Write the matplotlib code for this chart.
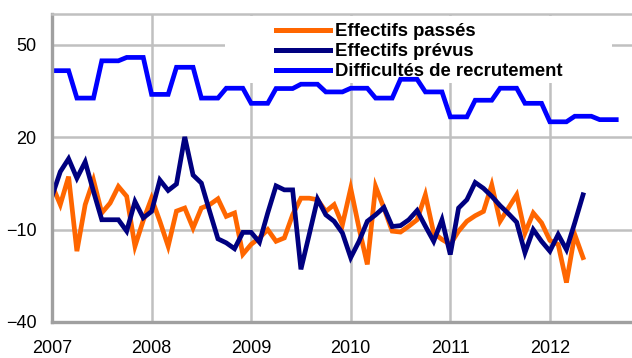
import matplotlib
matplotlib.use("Agg")
import matplotlib.pyplot as plt
from matplotlib.patches import Rectangle

plt.rcParams['font.family'] = ['Liberation Sans', 'DejaVu Sans']

# Monthly observations starting January 2007 (month index 0)
years = ["2007", "2008", "2009", "2010", "2011", "2012"]
year_start_month = [0, 12, 24, 36, 48, 60]

effectifs_passes = [
    4.5, -1.9, 7.2, -17.0, -1.9, 6.1, -4.6, -1.4, 4.0, 0.8,
    -15.4, -7.0, 0.2, -7.3, -15.4, -4.0, -3.0, -9.5, -3.0, -1.9,
    0.0, -5.7, -4.6, -18.0, -14.8, -12.7, -10.0, -13.8, -12.7, -5.2,
    0.2, 0.2, -0.3, -4.1, -1.9, -8.4, 3.4, -9.5, -21.3, 4.0,
    -3.0, -10.5, -10.8, -8.9, -6.8, 1.3, -11.1, -13.2, -14.8, -10.5,
    -7.3, -5.5, -4.1, 4.5, -7.3, -3.0, 1.3, -11.1, -4.6, -7.8,
    -13.5, -14.8, -27.2, -11.6, -19.1,
]

effectifs_prevus = [
    0.8, 8.8, 13.0, 6.7, 12.0, 2.4, -6.8, -6.8, -6.8, -10.5,
    -0.9, -6.2, -4.1, 6.1, 2.7, 4.8, 20.1, 7.7, 5.1, -4.1,
    -13.0, -14.3, -16.2, -10.9, -10.9, -14.1, -4.6, 4.2, 2.9, 2.9,
    -22.9, -11.6, -0.1, -5.2, -7.3, -11.1, -19.1, -13.8, -7.3, -5.2,
    -2.8, -9.0, -8.7, -6.8, -3.8, -8.9, -13.8, -6.8, -18.1, -3.0,
    -0.3, 5.3, 3.4, 0.8, -2.2, -4.8, -7.6, -17.5, -10.0, -13.8,
    -17.0, -11.6, -16.5, -7.8, 1.3,
]

difficultes_recrutement = [
    41.6, 41.6, 41.6, 32.7, 32.7, 32.7, 44.8, 44.8, 44.8, 45.9,
    45.9, 45.9, 33.9, 33.9, 33.9, 42.7, 42.7, 42.7, 32.7, 32.7,
    32.7, 35.9, 35.9, 35.9, 31.0, 31.0, 31.0, 35.8, 35.8, 35.8,
    37.2, 37.2, 37.2, 34.7, 34.7, 34.7, 35.9, 35.9, 35.9, 32.7,
    32.7, 32.7, 38.8, 38.8, 38.8, 34.7, 34.7, 34.7, 26.6, 26.6,
    26.6, 32.0, 32.0, 32.0, 35.9, 35.9, 35.9, 31.0, 31.0, 31.0,
    25.0, 25.0, 25.0, 26.8, 26.8, 26.8, 25.7, 25.7, 25.7,
]

y_ticks = [-40, -10, 20, 50]

fig = plt.figure(figsize=(6.32, 3.58), dpi=100)
ax = fig.add_axes([52 / 632, 1 - 322 / 358, 580 / 632, 308 / 358])

months_p = list(range(len(effectifs_passes)))
months_v = list(range(len(effectifs_prevus)))
months_d = list(range(len(difficultes_recrutement)))

lw = 3.4
ax.plot(months_p, effectifs_passes, color="#FF6600", lw=lw, zorder=2,
        label="Effectifs passés", solid_joinstyle="miter")
ax.plot(months_v, effectifs_prevus, color="#000080", lw=lw, zorder=2.1,
        label="Effectifs prévus", solid_joinstyle="miter")
ax.plot(months_d, difficultes_recrutement, color="#0000FF", lw=lw, zorder=2.2,
        label="Difficultés de recrutement", solid_joinstyle="miter")

ax.set_xlim(0, 69.9)
ax.set_ylim(-40, 60)
ax.set_yticks(y_ticks)
ax.set_xticks(year_start_month)
ax.set_xticklabels(years)

ax.grid(True, color="#c0c0c0", lw=1.8, zorder=0.5)
ax.set_axisbelow(True)
ax.tick_params(axis="both", length=0, labelsize=13, colors="black")
ax.tick_params(axis="y", pad=11)
ax.tick_params(axis="x", pad=13)

for side in ("left", "bottom"):
    ax.spines[side].set_color("#a0a0a0")
    ax.spines[side].set_linewidth(2.4)
ax.spines["top"].set_color("#c0c0c0")
ax.spines["top"].set_linewidth(1.8)
ax.spines["right"].set_visible(False)

# White panel behind the legend, under the data lines
ax.add_patch(Rectangle(((225 - 52) / 580, (322 - 83) / 308),
                       (612 - 225) / 580, (83 - 16) / 308,
                       transform=ax.transAxes, facecolor="white",
                       edgecolor="none", zorder=1))

leg = ax.legend(loc="upper left", bbox_to_anchor=((276 - 52) / 580, (322 - 23.5) / 308),
                frameon=False, borderpad=0, borderaxespad=0,
                handlelength=2.95, handletextpad=0.22, labelspacing=0.16,
                prop={"weight": "bold", "size": 13.3})
for h in leg.get_lines():
    h.set_linewidth(3.6)

fig.savefig("out.png", dpi=100)
